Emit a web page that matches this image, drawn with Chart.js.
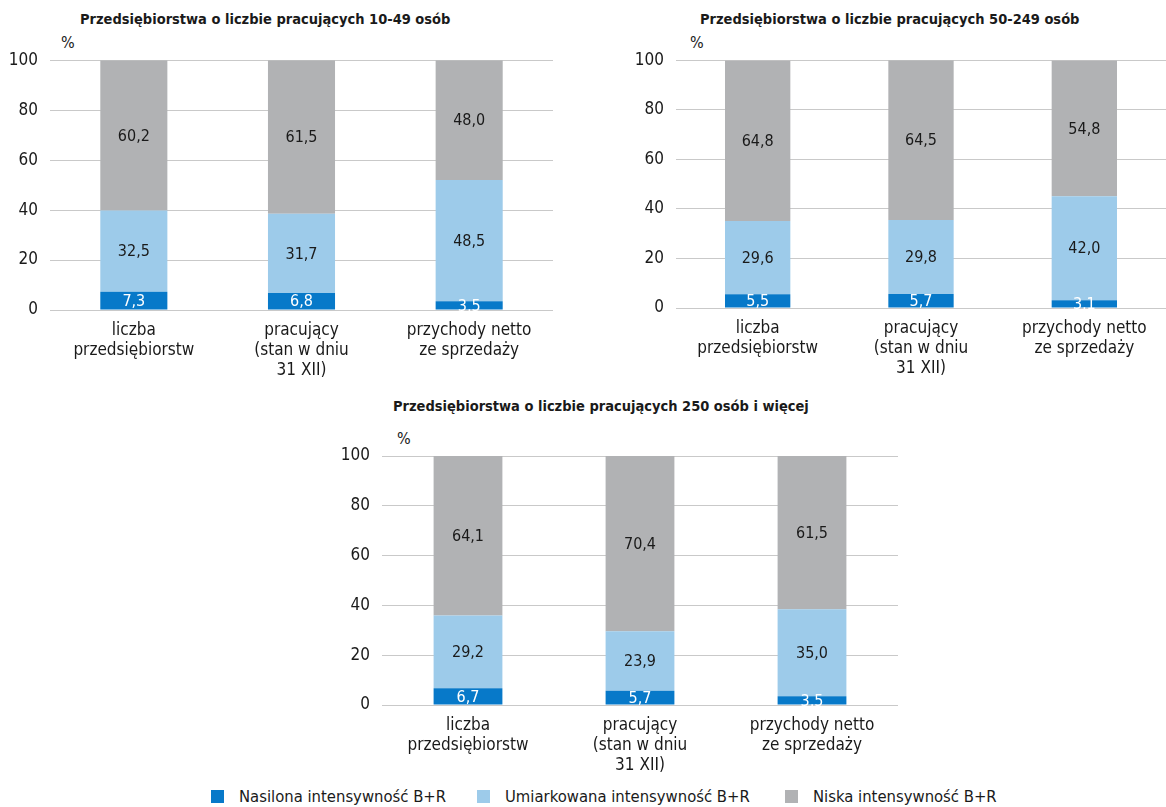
<!DOCTYPE html>
<html lang="pl">
<head>
    <meta charset="UTF-8">
    <title>Przedsiębiorstwa - intensywność B+R</title>
    <script src="https://cdn.jsdelivr.net/npm/chart.js"></script>
    <style>
        body {
    margin: 0;
    width: 1166px;
    height: 807px;
    position: relative;
    background: #fff;
    font-family: 'DejaVu Sans Condensed', 'Liberation Sans Narrow', sans-serif;
    color: #1a1a1a;
    overflow: hidden;
}

.box {
    position: absolute;
}

.title {
    position: absolute;
    font-weight: bold;
    font-size: 14.5px;
    white-space: nowrap;
}

.unit {
    position: absolute;
    font-size: 16px;
}

#legend {
    position: absolute;
    top: 787px;
    left: 0;
    width: 1166px;
    font-size: 16.5px;
}

#legend span.item {
    position: absolute;
    white-space: nowrap;
}

#legend i {
    display: inline-block;
    width: 13px;
    height: 13px;
    margin-right: 15px;
    vertical-align: -1px;
}
    </style>
</head>
<body>

<div class="title" style="left:80px; top:11px;">Przedsiębiorstwa o liczbie pracujących 10-49 osób</div>
<div class="title" style="left:700px; top:11px;">Przedsiębiorstwa o liczbie pracujących 50-249 osób</div>
<div class="title" style="left:393px; top:398px;">Przedsiębiorstwa o liczbie pracujących 250 osób i więcej</div>

<div class="unit" style="left:61px; top:33px;">%</div>
<div class="unit" style="left:690px; top:33px;">%</div>
<div class="unit" style="left:397px; top:429px;">%</div>

<div class="box" style="left:0; top:38px; width:575px; height:352px;"><canvas id="c1"></canvas></div>
<div class="box" style="left:590px; top:38px; width:576px; height:352px;"><canvas id="c2"></canvas></div>
<div class="box" style="left:300px; top:431px; width:620px; height:354px;"><canvas id="c3"></canvas></div>

<div id="legend"></div>

<script>
    // categories and series
    var categories = [
        ['liczba', 'przedsiębiorstw'],
        ['pracujący', '(stan w dniu', '31 XII)'],
        ['przychody netto', 'ze sprzedaży']
    ];
    var seriesNames = ['Nasilona intensywność B+R', 'Umiarkowana intensywność B+R', 'Niska intensywność B+R'];
    var seriesColors = ['#0779c9', '#9dcbea', '#b1b2b4'];

    // 10-49 osób
    var small_high = [7.3, 6.8, 3.5];
    var small_mid = [32.5, 31.7, 48.5];
    var small_low = [60.2, 61.5, 48.0];

    // 50-249 osób
    var medium_high = [5.5, 5.7, 3.1];
    var medium_mid = [29.6, 29.8, 42.0];
    var medium_low = [64.8, 64.5, 54.8];

    // 250 osób i więcej
    var large_high = [6.7, 5.7, 3.5];
    var large_mid = [29.2, 23.9, 35.0];
    var large_low = [64.1, 70.4, 61.5];

    var yTicks = [0, 20, 40, 60, 80, 100];

    var FONT = "'DejaVu Sans Condensed', 'Liberation Sans Narrow', sans-serif";
    var TEXT = '#1a1a1a';

    // draws the value inside each bar segment
    var valueLabels = {
        id: 'valueLabels',
        afterDatasetsDraw: function (chart) {
            var ctx = chart.ctx;
            ctx.save();
            ctx.font = '16px ' + FONT;
            ctx.textAlign = 'center';
            ctx.textBaseline = 'middle';
            chart.data.datasets.forEach(function (ds, di) {
                var meta = chart.getDatasetMeta(di);
                meta.data.forEach(function (bar, i) {
                    var p = bar.getProps(['x', 'y', 'base'], true);
                    ctx.fillStyle = di === 0 ? '#ffffff' : TEXT;
                    ctx.fillText(ds.data[i].toFixed(1).replace('.', ','), p.x, (p.y + p.base) / 2 + 1);
                });
            });
            ctx.restore();
        }
    };

    function makeChart(id, high, mid, low, yWidth, xHeight, pad) {
        var ctx = document.getElementById(id).getContext('2d');
        return new Chart(ctx, {
            type: 'bar',
            data: {
                labels: categories,
                datasets: [
                    { label: seriesNames[0], data: high, backgroundColor: seriesColors[0] },
                    { label: seriesNames[1], data: mid, backgroundColor: seriesColors[1] },
                    { label: seriesNames[2], data: low, backgroundColor: seriesColors[2] }
                ]
            },
            options: {
                responsive: true,
                maintainAspectRatio: false,
                animation: false,
                layout: { padding: pad },
                datasets: {
                    bar: { barPercentage: 0.4, categoryPercentage: 1 }
                },
                plugins: {
                    legend: { display: false },
                    tooltip: { enabled: false }
                },
                scales: {
                    x: {
                        stacked: true,
                        grid: { display: false },
                        border: { display: false },
                        ticks: {
                            color: TEXT,
                            padding: 2,
                            maxRotation: 0,
                            autoSkip: false,
                            font: { family: FONT, size: 17, lineHeight: 1.2 }
                        },
                        afterFit: function (s) { s.height = xHeight; }
                    },
                    y: {
                        stacked: true,
                        min: 0,
                        max: 100,
                        afterBuildTicks: function (s) {
                            s.ticks = yTicks.map(function (v) { return { value: v }; });
                        },
                        grid: { color: '#c9c9c9', lineWidth: 1, drawTicks: false },
                        border: { display: false },
                        ticks: {
                            color: TEXT,
                            padding: 12,
                            font: { family: FONT, size: 17 }
                        },
                        afterFit: function (s) { s.width = yWidth; }
                    }
                }
            },
            plugins: [valueLabels]
        });
    }

    makeChart('c1', small_high, small_mid, small_low, 50, 80, { top: 18, right: 22, bottom: 0, left: 0 });
    makeChart('c2', medium_high, medium_mid, medium_low, 86, 82, { top: 18, right: 0, bottom: 0, left: 0 });
    makeChart('c3', large_high, large_mid, large_low, 82, 80, { top: 25, right: 22, bottom: 0, left: 0 });

    // shared legend
    var legendLeft = [211, 477, 785];
    var legend = document.getElementById('legend');
    seriesNames.forEach(function (name, i) {
        var item = document.createElement('span');
        item.className = 'item';
        item.style.left = legendLeft[i] + 'px';
        var sw = document.createElement('i');
        sw.style.background = seriesColors[i];
        item.appendChild(sw);
        item.appendChild(document.createTextNode(name));
        legend.appendChild(item);
    });
</script>

</body>
</html>
